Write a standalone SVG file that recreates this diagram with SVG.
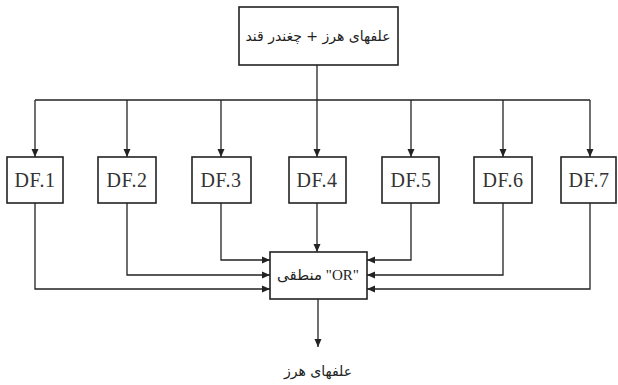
<svg xmlns="http://www.w3.org/2000/svg" width="618" height="385" viewBox="0 0 618 385">
<style>
.box{fill:#fff;stroke:#222;stroke-width:1.6}
.ln{fill:none;stroke:#222;stroke-width:1.3}
.lat{font-family:"Liberation Serif","DejaVu Serif",serif;font-size:20px;fill:#333;text-anchor:middle;letter-spacing:0.5px}
.ar{font-family:"DejaVu Sans","Noto Sans",sans-serif;font-size:14px;fill:#222;text-anchor:middle}
</style>
<defs>
<marker id="ah" viewBox="0 0 8 8" refX="8" refY="4" markerWidth="8" markerHeight="8" markerUnits="userSpaceOnUse" orient="auto">
<path d="M0,0.5 L8,4 L0,7.5 Z" fill="#222"/>
</marker>
</defs>
<g id="connectors">
<path class="ln" d="M317,65 V100"/>
<path class="ln" d="M35,100 H590"/>
<path class="ln" d="M35,100 V157" marker-end="url(#ah)"/>
<path class="ln" d="M127,100 V157" marker-end="url(#ah)"/>
<path class="ln" d="M221,100 V157" marker-end="url(#ah)"/>
<path class="ln" d="M317,100 V157" marker-end="url(#ah)"/>
<path class="ln" d="M411,100 V157" marker-end="url(#ah)"/>
<path class="ln" d="M503,100 V157" marker-end="url(#ah)"/>
<path class="ln" d="M590,100 V157" marker-end="url(#ah)"/>
<path class="ln" d="M221,203 V260 H270" marker-end="url(#ah)"/>
<path class="ln" d="M127,203 V275 H270" marker-end="url(#ah)"/>
<path class="ln" d="M35,203 V289 H270" marker-end="url(#ah)"/>
<path class="ln" d="M317,203 V252" marker-end="url(#ah)"/>
<path class="ln" d="M411,203 V260 H367" marker-end="url(#ah)"/>
<path class="ln" d="M503,203 V275 H367" marker-end="url(#ah)"/>
<path class="ln" d="M590,203 V289 H367" marker-end="url(#ah)"/>
<path class="ln" d="M318,299 V347" marker-end="url(#ah)"/>
</g>
<g id="top">
<rect class="box" x="239" y="7" width="159" height="58"/>
<text class="ar" x="318" y="41" direction="rtl">علفهای هرز + چغندر قند</text>
</g>
<g id="df1"><rect class="box" x="7" y="157" width="56" height="46"/><text class="lat" x="35" y="187">DF.1</text></g>
<g id="df2"><rect class="box" x="98" y="157" width="58" height="46"/><text class="lat" x="127" y="187">DF.2</text></g>
<g id="df3"><rect class="box" x="192" y="157" width="59" height="46"/><text class="lat" x="221" y="187">DF.3</text></g>
<g id="df4"><rect class="box" x="289" y="157" width="57" height="46"/><text class="lat" x="317" y="187">DF.4</text></g>
<g id="df5"><rect class="box" x="382" y="157" width="57" height="46"/><text class="lat" x="411" y="187">DF.5</text></g>
<g id="df6"><rect class="box" x="474" y="157" width="58" height="46"/><text class="lat" x="503" y="187">DF.6</text></g>
<g id="df7"><rect class="box" x="561" y="157" width="55" height="46"/><text class="lat" x="589" y="187">DF.7</text></g>
<g id="or">
<rect class="box" x="270" y="252" width="97" height="47"/>
<text x="318" y="280" direction="rtl" style="font-family:'Liberation Serif','DejaVu Sans',serif;font-size:15px;fill:#222;text-anchor:middle">"OR" منطقی</text>
</g>
<g id="out">
<text class="ar" x="318" y="376" direction="rtl">علفهای هرز</text>
</g>
</svg>
